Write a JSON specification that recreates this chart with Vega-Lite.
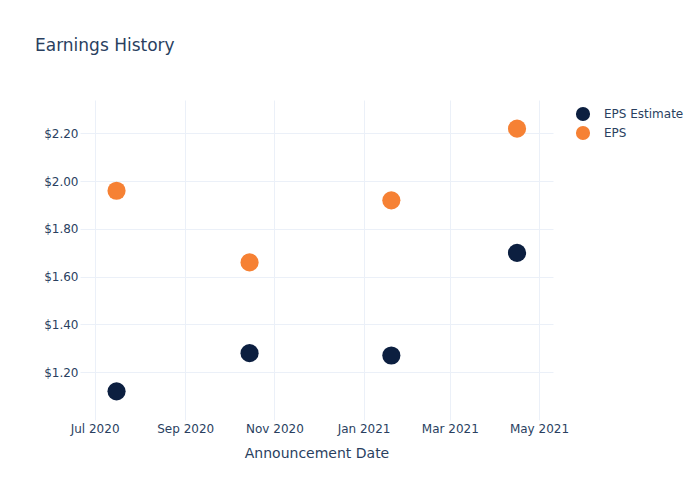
{
  "$schema": "https://vega.github.io/schema/vega-lite/v6.json",
  "autosize": {"type": "none"},
  "padding": {"left": 80, "top": 100, "right": 147, "bottom": 80},
  "width": 473,
  "height": 320,
  "background": "white",
  "title": {
    "text": "Earnings History",
    "anchor": "start",
    "frame": "group",
    "dx": -45,
    "offset": 32,
    "baseline": "alphabetic",
    "fontSize": 17,
    "fontWeight": "normal",
    "font": "DejaVu Sans",
    "color": "#2a3f5f"
  },
  "data": {
    "values": [
      {"date": "2020-07-16", "series": "EPS Estimate", "value": 1.12},
      {"date": "2020-10-15", "series": "EPS Estimate", "value": 1.28},
      {"date": "2021-01-20", "series": "EPS Estimate", "value": 1.27},
      {"date": "2021-04-16", "series": "EPS Estimate", "value": 1.70},
      {"date": "2020-07-16", "series": "EPS", "value": 1.96},
      {"date": "2020-10-15", "series": "EPS", "value": 1.66},
      {"date": "2021-01-20", "series": "EPS", "value": 1.92},
      {"date": "2021-04-16", "series": "EPS", "value": 2.22}
    ]
  },
  "mark": {"type": "point", "filled": true, "opacity": 1, "size": 330, "shape": "circle"},
  "encoding": {
    "x": {
      "field": "date",
      "type": "temporal",
      "scale": {
        "type": "utc",
        "domain": [
          {"year": 2020, "month": 6, "date": 21, "utc": true},
          {"year": 2021, "month": 5, "date": 10, "hours": 14, "minutes": 24, "utc": true}
        ]
      },
      "axis": {
        "title": "Announcement Date",
        "format": "%b %Y",
        "values": [
          {"year": 2020, "month": 7, "date": 1, "utc": true},
          {"year": 2020, "month": 9, "date": 1, "utc": true},
          {"year": 2020, "month": 11, "date": 1, "utc": true},
          {"year": 2021, "month": 1, "date": 1, "utc": true},
          {"year": 2021, "month": 3, "date": 1, "utc": true},
          {"year": 2021, "month": 5, "date": 1, "utc": true}
        ],
        "labelPadding": 3,
        "titlePadding": 12,
        "labelFlush": false,
        "labelOverlap": false
      }
    },
    "y": {
      "field": "value",
      "type": "quantitative",
      "scale": {"domain": [1.0, 2.34], "zero": false, "nice": false},
      "axis": {
        "title": null,
        "format": "$.2f",
        "values": [1.2, 1.4, 1.6, 1.8, 2.0, 2.2],
        "labelPadding": 2
      }
    },
    "color": {
      "field": "series",
      "type": "nominal",
      "scale": {"domain": ["EPS Estimate", "EPS"], "range": ["#0c1f40", "#f68134"]},
      "legend": {
        "title": null,
        "orient": "none",
        "legendX": 495,
        "legendY": 6,
        "padding": 0,
        "symbolSize": 200,
        "symbolType": "circle",
        "symbolOpacity": 1,
        "rowPadding": 3,
        "labelOffset": 13,
        "labelFontSize": 12,
        "labelFont": "DejaVu Sans",
        "labelColor": "#2a3f5f"
      }
    }
  },
  "config": {
    "view": {"stroke": null},
    "axis": {
      "domain": false,
      "ticks": false,
      "grid": true,
      "gridColor": "#ebf0f8",
      "gridWidth": 1,
      "labelFont": "DejaVu Sans",
      "labelFontSize": 12,
      "labelColor": "#2a3f5f",
      "titleFont": "DejaVu Sans",
      "titleFontSize": 14,
      "titleFontWeight": "normal",
      "titleColor": "#2a3f5f"
    }
  }
}
